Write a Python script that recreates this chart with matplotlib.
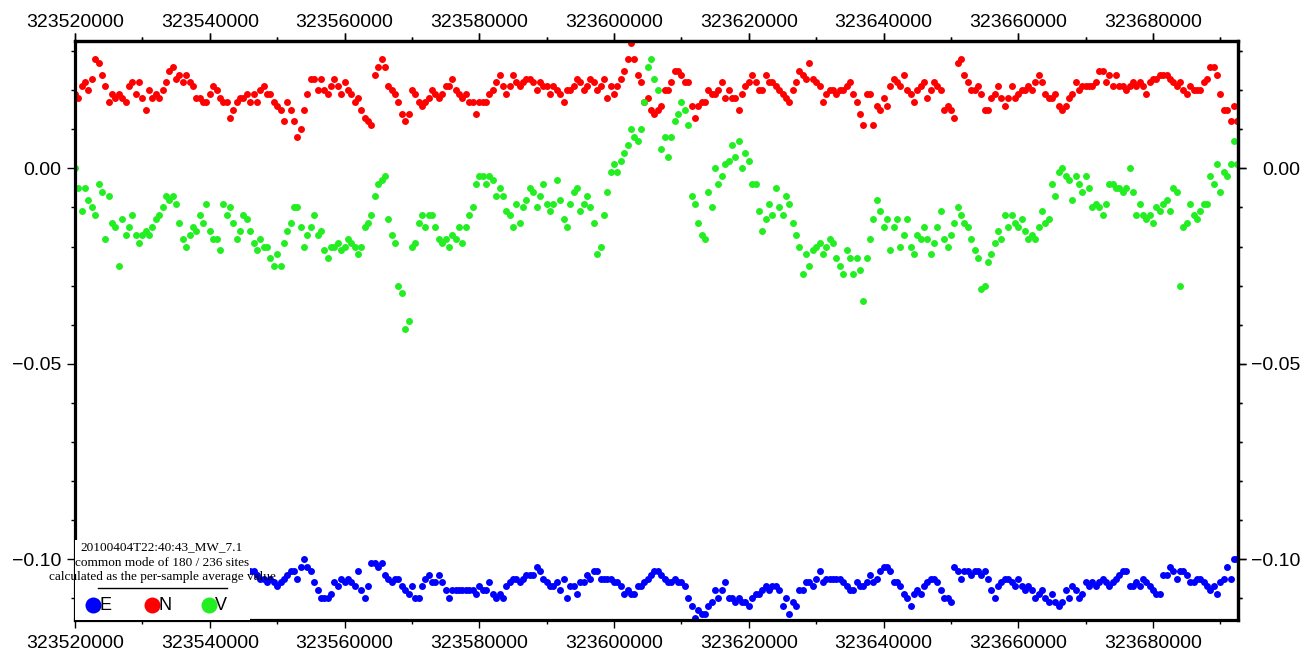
import numpy as np
import matplotlib
matplotlib.use("Agg")
import matplotlib.pyplot as plt
from matplotlib.ticker import MultipleLocator, FuncFormatter
from matplotlib.patches import Rectangle

# sample times (s) and per-sample common mode values (mm)
t0 = 323520000
dt = 500
blue_t0 = 323546000   # first E sample not hidden by the legend box

north = [
    19, 18, 21, 22, 20, 23, 28, 27, 24, 21,
    17, 19, 18, 19, 18, 17, 21, 22, 19, 22,
    18, 15, 20, 18, 19, 18, 20, 22, 25, 26,
    23, 24, 22, 24, 22, 21, 18, 18, 17, 17,
    19, 21, 20, 18, 17, 17, 13, 15, 17, 18,
    18, 19, 17, 19, 17, 20, 21, 19, 19, 17,
    16, 15, 12, 17, 15, 12, 8, 10, 15, 19,
    23, 23, 20, 23, 20, 19, 21, 23, 21, 19,
    22, 20, 19, 17, 18, 15, 13, 12, 11, 24,
    26, 28, 26, 21, 20, 19, 17, 14, 12, 14,
    20, 19, 17, 16, 17, 18, 20, 19, 18, 19,
    21, 21, 23, 20, 19, 18, 19, 17, 17, 14,
    17, 17, 17, 19, 20, 22, 24, 21, 19, 21,
    24, 22, 21, 22, 23, 23, 22, 20, 22, 21,
    21, 19, 21, 20, 19, 17, 20, 20, 21, 23,
    22, 20, 21, 23, 22, 20, 21, 23, 18, 21,
    19, 21, 23, 25, 28, 32, 28, 24, 22, 17,
    18, 15, 14, 15, 16, 20, 20, 22, 25, 25,
    24, 22, 22, 16, 13, 16, 17, 17, 20, 19,
    19, 20, 22, 18, 20, 18, 18, 15, 19, 21,
    22, 24, 22, 20, 20, 24, 22, 22, 21, 20,
    19, 18, 17, 20, 22, 25, 24, 23, 27, 23,
    22, 21, 17, 19, 20, 20, 19, 20, 20, 21,
    22, 19, 17, 14, 11, 19, 19, 11, 16, 15,
    18, 16, 21, 23, 22, 21, 24, 20, 19, 17,
    20, 21, 22, 18, 20, 22, 21, 20, 15, 16,
    15, 13, 27, 28, 24, 22, 20, 20, 21, 19,
    15, 15, 18, 19, 21, 18, 16, 18, 21, 18,
    19, 20, 20, 21, 20, 22, 24, 22, 19, 18,
    18, 19, 16, 15, 16, 18, 19, 22, 20, 21,
    21, 21, 21, 22, 25, 25, 22, 24, 21, 24,
    21, 21, 20, 21, 22, 21, 22, 21, 19, 22,
    23, 23, 24, 24, 24, 23, 22, 21, 22, 20,
    19, 21, 20, 20, 20, 22, 23, 26, 26, 24,
    19, 15, 15, 12, 16, 12,
]

vertical = [
    0, -5, -11, -5, -8, -10, -12, -4, -6, -18,
    -7, -14, -15, -25, -13, -17, -15, -12, -17, -19,
    -17, -16, -17, -15, -13, -12, -10, -7, -8, -7,
    -9, -14, -18, -20, -17, -15, -16, -12, -14, -9,
    -16, -18, -18, -21, -9, -12, -10, -14, -18, -16,
    -12, -13, -16, -19, -21, -18, -20, -20, -23, -25,
    -22, -25, -19, -16, -14, -10, -10, -15, -20, -17,
    -15, -12, -17, -16, -21, -23, -20, -20, -19, -21,
    -20, -18, -19, -20, -22, -20, -15, -14, -12, -7,
    -4, -3, -2, -13, -17, -19, -30, -32, -41, -39,
    -20, -19, -14, -12, -15, -12, -12, -15, -18, -19,
    -18, -20, -17, -18, -15, -19, -15, -12, -10, -4,
    -2, -2, -4, -2, -3, -7, -5, -7, -11, -12,
    -15, -9, -14, -10, -8, -5, -6, -10, -7, -4,
    -9, -11, -9, -3, -8, -13, -15, -9, -6, -5,
    -11, -9, -7, -10, -14, -22, -20, -12, -6, -1,
    1, -1, 2, 4, 6, 10, 8, 7, 10, 17,
    26, 28, 23, 20, 5, 8, 3, 8, 12, 14,
    17, 15, 11, -7, -9, -14, -17, -18, -6, -10,
    0, -4, -2, 1, 2, 6, 3, 7, 0, 4,
    2, -4, -4, -11, -16, -13, -9, -12, -5, -10,
    -12, -7, -9, -14, -17, -20, -27, -22, -25, -21,
    -20, -19, -22, -20, -18, -19, -23, -25, -27, -21,
    -23, -27, -23, -26, -34, -23, -18, -13, -8, -11,
    -15, -13, -21, -15, -13, -20, -17, -13, -20, -22,
    -17, -18, -15, -18, -22, -19, -15, -11, -18, -20,
    -17, -14, -10, -12, -14, -15, -18, -21, -23, -31,
    -30, -24, -22, -19, -16, -18, -12, -15, -12, -14,
    -15, -13, -16, -18, -17, -18, -15, -11, -14, -13,
    -4, -7, -1, 0, -2, -3, -8, -2, -4, -6,
    -2, -5, -10, -9, -10, -12, -9, -4, -4, -5,
    -5, -6, -5, 0, -6, -12, -9, -12, -13, -12,
    -14, -10, -11, -9, -8, -11, -5, -6, -30, -15,
    -14, -9, -12, -13, -11, -9, -9, -2, -4, 1,
    -6, -1, -2, 1, 7, 1,
]

east = [
    -103, -103, -104, -105, -105, -106, -105, -106,
    -107, -106, -105, -104, -103, -103, -105, -102, -100, -102,
    -103, -106, -108, -110, -110, -110, -109, -106, -107, -105,
    -106, -105, -106, -107, -103, -108, -110, -107, -101, -101,
    -102, -101, -104, -105, -106, -105, -105, -107, -108, -109,
    -107, -110, -110, -107, -105, -104, -106, -106, -104, -106,
    -108, -110, -108, -108, -108, -108, -108, -108, -108, -109,
    -107, -108, -108, -106, -109, -110, -109, -110, -107, -106,
    -105, -105, -106, -105, -104, -104, -104, -102, -103, -105,
    -106, -107, -107, -106, -108, -105, -110, -107, -107, -109,
    -106, -106, -104, -105, -103, -103, -105, -105, -105, -105,
    -106, -106, -107, -109, -108, -109, -109, -107, -107, -106,
    -105, -104, -103, -103, -104, -105, -106, -106, -105, -106,
    -106, -107, -110, -112, -115, -113, -114, -114, -112, -111,
    -108, -110, -108, -106, -110, -110, -111, -110, -111, -111,
    -112, -110, -109, -109, -108, -107, -108, -107, -107, -108,
    -112, -110, -114, -111, -112, -108, -108, -106, -106, -107,
    -105, -103, -106, -105, -105, -105, -105, -105, -106, -107,
    -108, -108, -106, -107, -107, -106, -104, -106, -105, -103,
    -102, -102, -103, -106, -106, -107, -109, -110, -112, -109,
    -108, -109, -107, -106, -105, -105, -106, -108, -110, -110,
    -111, -102, -103, -105, -103, -103, -104, -103, -103, -104,
    -103, -105, -108, -110, -107, -106, -105, -105, -106, -107,
    -105, -107, -108, -107, -108, -110, -109, -108, -110, -111,
    -109, -111, -112, -111, -108, -110, -107, -108, -110, -109,
    -106, -107, -106, -107, -106, -105, -106, -107, -106, -105,
    -104, -103, -103, -107, -107, -106, -107, -105, -106, -107,
    -108, -109, -109, -104, -104, -102, -103, -105, -103, -103,
    -104, -106, -106, -105, -105, -106, -107, -108, -107, -109,
    -106, -105, -102, -105, -100, -100,
]

event = "20100404T22:40:43_MW_7.1"
info = ["common mode of 180 / 236 sites",
        "calculated as the per-sample average value"]
labels = ["E", "N", "V"]
colors = {"E": "#0000ff", "N": "#ff0000", "V": "#22ee22"}

t_nv = t0 + dt * np.arange(len(north))
t_e = blue_t0 + dt * np.arange(len(east))

plt.rcParams["font.family"] = ["Liberation Sans", "DejaVu Sans"]

fig = plt.figure(figsize=(13.14, 6.62), dpi=100)
ax = fig.add_axes([0.05708, 0.06344, 0.88508, 0.87462])

ms = 5.0
ax.plot(t_nv, np.array(north) / 1000.0, "o", color=colors["N"], ms=ms, mew=0)
ax.plot(t_nv, np.array(vertical) / 1000.0, "o", color=colors["V"], ms=ms, mew=0)
ax.plot(t_e, np.array(east) / 1000.0, "o", color=colors["E"], ms=ms, mew=0)

ax.set_xlim(323520000, 323692600)
ax.set_ylim(-0.1156, 0.0326)


def yfmt(v, pos):
    s = f"{v:.2f}"
    if s == "-0.00":
        s = "0.00"
    return s.replace("-", "\u2212")


xfmt = FuncFormatter(lambda v, pos: f"{v:.0f}")


def style_axis(axis_obj, major, minor, fmt):
    axis_obj.set_major_locator(MultipleLocator(major))
    axis_obj.set_minor_locator(MultipleLocator(minor))
    axis_obj.set_major_formatter(fmt)


style_axis(ax.xaxis, 20000, 10000, xfmt)
style_axis(ax.yaxis, 0.05, 0.01, FuncFormatter(yfmt))
ax.tick_params(which="both", direction="out", width=1.0, labelsize=14,
               top=True, right=True)
ax.tick_params(which="major", length=6)
ax.tick_params(which="minor", length=3.2)
ax.tick_params(axis="x", which="major", pad=4.5)
ax.tick_params(axis="y", which="major", pad=3.6)
for sp in ax.spines.values():
    sp.set_linewidth(2.3)

# labelled top and right axes
top = ax.secondary_xaxis("top")
style_axis(top.xaxis, 20000, 10000, xfmt)
top.tick_params(which="both", direction="out", width=1.0, labelsize=14)
top.tick_params(which="major", length=6, pad=1.5)
top.tick_params(which="minor", length=3.2)
top.spines["top"].set_linewidth(2.3)

right = ax.secondary_yaxis("right")
style_axis(right.yaxis, 0.05, 0.01, FuncFormatter(yfmt))
right.tick_params(which="both", direction="out", width=1.0, labelsize=14)
right.tick_params(which="major", length=6, pad=39)
right.tick_params(which="minor", length=3.2)
right.spines["right"].set_linewidth(2.3)
for lab in right.get_yticklabels():
    lab.set_horizontalalignment("right")

# legend box (white, covers the inner half of the frame)
ax.add_patch(Rectangle((0, 0), 0.1505, 0.138, transform=ax.transAxes,
                       facecolor="white", edgecolor="none", zorder=5,
                       clip_on=False))
serif = ["Liberation Serif", "DejaVu Serif"]
ax.text(0.0748, 0.1261, event, transform=ax.transAxes, ha="center",
        va="center", fontsize=9.5, family=serif, zorder=6)
for k, line in enumerate(info):
    ax.text(0.0748, 0.0984 - k * 0.0241, line, transform=ax.transAxes,
            ha="center", va="center", fontsize=9.5, family=serif, zorder=6)
ax.plot([0.0198, 0.1307], [0.0553, 0.0553], color="black", lw=1.0,
        transform=ax.transAxes, zorder=6, clip_on=False)
sym_x = [0.0155, 0.0662, 0.1152]
for sx, lab in zip(sym_x, labels):
    ax.plot([sx], [0.0259], "o", color=colors[lab], ms=11.5, mew=0,
            transform=ax.transAxes, zorder=6, clip_on=False)
    ax.text(sx + 0.0055, 0.0259, lab, transform=ax.transAxes, ha="left",
            va="center", fontsize=13, zorder=7)

fig.savefig("out.png", dpi=100)
